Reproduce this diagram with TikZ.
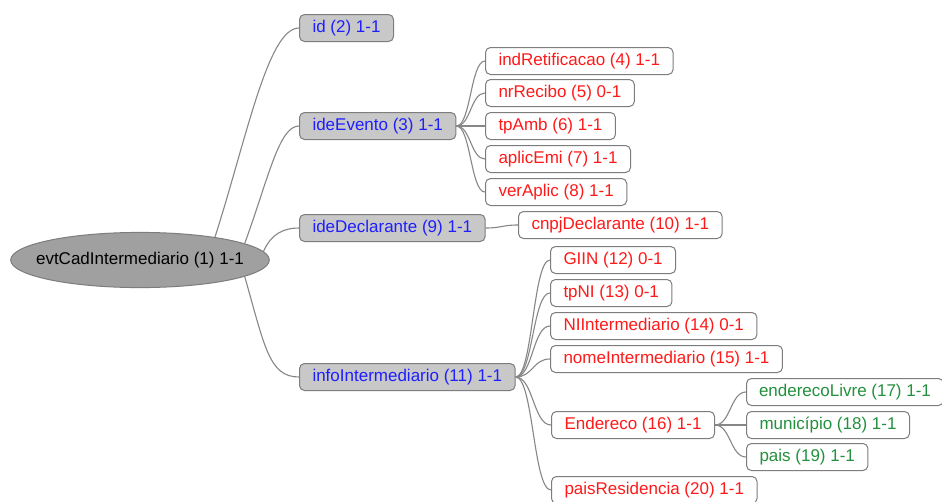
\documentclass[tikz,border=0pt]{standalone}
\usepackage{fontspec}
\setmainfont{Liberation Sans}
\usetikzlibrary{calc,shapes.geometric}
\definecolor{linegray}{RGB}{135,135,135}
\definecolor{boxborder}{RGB}{125,125,125}
\definecolor{boxgray}{RGB}{200,200,200}
\definecolor{rootgray}{RGB}{160,160,160}
\definecolor{bluetext}{RGB}{30,30,255}
\definecolor{redtext}{RGB}{255,25,25}
\definecolor{greentext}{RGB}{35,145,60}
\tikzset{
  basebox/.style={draw=boxborder, line width=1pt, rounded corners=5pt,
    minimum height=27pt, inner xsep=13pt, inner ysep=0pt, anchor=west,
    text height=12.5pt, text depth=3.5pt, font=\fontsize{17}{20}\selectfont},
  lvlone/.style={basebox, fill=boxgray, text=bluetext},
  lvltwo/.style={basebox, fill=white, text=redtext},
  lvlthree/.style={basebox, fill=white, text=greentext},
  conn/.style={draw=linegray, line width=1.1pt},
  branch/.style={to path={let \p1=(\tikztostart), \p2=(\tikztotarget) in
    .. controls ({(\x1+\x2)/2},\y1) and ({(\x1+\x2)/2},\y2) .. (\tikztotarget)}}
}
\begin{document}
\begin{tikzpicture}[x=1pt,y=-1pt]
\useasboundingbox (0,0) rectangle (942,501);
\fill[white] (0,0) rectangle (942,501);

\node[ellipse, draw=boxborder, fill=rootgray, line width=1pt,
  inner xsep=-12.5pt, inner ysep=11.5pt, text height=12.5pt, text depth=3.5pt,
  text=black, font=\fontsize{17}{20}\selectfont] (root) at (140,260) {evtCadIntermediario (1) 1-1};

\node[lvlone] (id) at (299,28) {id (2) 1-1};
\node[lvlone] (ideEvento) at (299,126) {ideEvento (3) 1-1};
\node[lvlone] (ideDeclarante) at (299,228) {ideDeclarante (9) 1-1};
\node[lvlone] (infoInt) at (299,377) {infoIntermediario (11) 1-1};

\node[lvltwo] (indRet) at (485,61) {indRetificacao (4) 1-1};
\node[lvltwo] (nrRecibo) at (485,93) {nrRecibo (5) 0-1};
\node[lvltwo] (tpAmb) at (485,126) {tpAmb (6) 1-1};
\node[lvltwo] (aplicEmi) at (485,159) {aplicEmi (7) 1-1};
\node[lvltwo] (verAplic) at (485,192) {verAplic (8) 1-1};

\node[lvltwo] (cnpj) at (518,225) {cnpjDeclarante (10) 1-1};

\node[lvltwo] (giin) at (550,260) {GIIN (12) 0-1};
\node[lvltwo] (tpni) at (550,293) {tpNI (13) 0-1};
\node[lvltwo] (niint) at (550,326) {NIIntermediario (14) 0-1};
\node[lvltwo] (nomeint) at (550,359) {nomeIntermediario (15) 1-1};
\node[lvltwo] (endereco) at (551,425) {Endereco (16) 1-1};
\node[lvltwo] (paisres) at (551,490) {paisResidencia (20) 1-1};

\node[lvlthree, inner xsep=12.5pt] (endlivre) at (746,392) {enderecoLivre (17) 1-1};
\node[lvlthree] (municipio) at (746,425) {município (18) 1-1};
\node[lvlthree] (pais) at (746,457) {pais (19) 1-1};

\draw[conn] (root.17) .. controls +(32,-100) and +(-31,0) .. (id.west);
\draw[conn] (root.9) .. controls +(24,-66) and +(-20,0) .. (ideEvento.west);
\draw[conn] (root.4) .. controls +(8,-18) and +(-15,0) .. (ideDeclarante.west);
\draw[conn] (root.-9) .. controls +(20,70) and +(-30,0) .. (infoInt.west);

\foreach \c in {indRet,nrRecibo,tpAmb,aplicEmi,verAplic}
  \draw[conn] (ideEvento.east) to[branch] (\c.west);
\draw[conn] (ideDeclarante.east) to[branch] (cnpj.west);
\foreach \c in {giin,tpni,niint,nomeint,endereco,paisres}
  \draw[conn] (infoInt.east) to[branch] (\c.west);
\foreach \c in {endlivre,municipio,pais}
  \draw[conn] (endereco.east) to[branch] (\c.west);
\end{tikzpicture}
\end{document}
